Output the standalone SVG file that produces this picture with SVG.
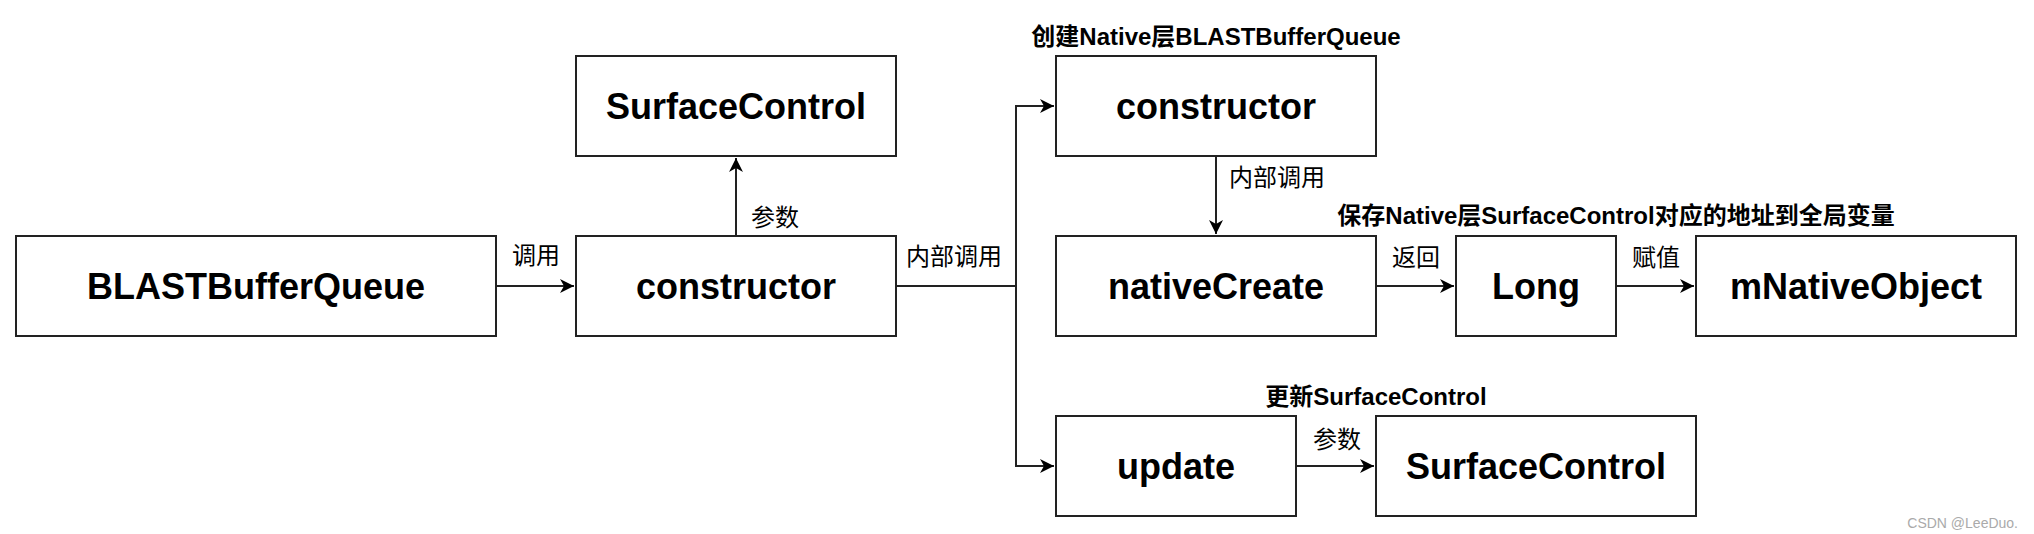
<svg xmlns="http://www.w3.org/2000/svg" width="2034" height="534" viewBox="0 0 2034 534">
<style>
.box{fill:#fff;stroke:#222;stroke-width:2}
.nt{font-family:"Liberation Sans","Noto Sans CJK SC",sans-serif;font-weight:bold;font-size:36px;fill:#000;text-anchor:middle}
.el{font-family:"Liberation Sans","Noto Sans CJK SC",sans-serif;font-size:24px;fill:#000}
.tl{font-family:"Liberation Sans","Noto Sans CJK SC",sans-serif;font-size:24px;font-weight:bold;fill:#000;text-anchor:middle}
.edge{fill:none;stroke:#222;stroke-width:2}
</style>
<defs>
<marker id="arr" markerUnits="userSpaceOnUse" markerWidth="16" markerHeight="16" viewBox="0 0 16 16" refX="15" refY="8" orient="auto">
<path d="M1,1 L15,8 L1,15 L5,8 Z" fill="#000"/>
</marker>
</defs>
<rect width="2034" height="534" fill="#fff"/>
<g id="connectors">
<path class="edge" d="M496,286 H574" marker-end="url(#arr)"/>
<path class="edge" d="M736,236 V158" marker-end="url(#arr)"/>
<path class="edge" d="M896,286 H1016 V106 H1054" marker-end="url(#arr)"/>
<path class="edge" d="M1016,286 V466 H1054" marker-end="url(#arr)"/>
<path class="edge" d="M1216,156 V234" marker-end="url(#arr)"/>
<path class="edge" d="M1376,286 H1454" marker-end="url(#arr)"/>
<path class="edge" d="M1616,286 H1694" marker-end="url(#arr)"/>
<path class="edge" d="M1296,466 H1374" marker-end="url(#arr)"/>
<text class="el" x="536" y="264" text-anchor="middle">调用</text>
<text class="el" x="751" y="226">参数</text>
<text class="el" x="954" y="265" text-anchor="middle">内部调用</text>
<text class="el" x="1229" y="186">内部调用</text>
<text class="el" x="1416" y="266" text-anchor="middle">返回</text>
<text class="el" x="1656" y="266" text-anchor="middle">赋值</text>
<text class="el" x="1337" y="448" text-anchor="middle">参数</text>
</g>
<g id="n-blast"><rect class="box" x="16" y="236" width="480" height="100"/><text class="nt" x="256" y="299">BLASTBufferQueue</text></g>
<g id="n-ctor1"><rect class="box" x="576" y="236" width="320" height="100"/><text class="nt" x="736" y="299">constructor</text></g>
<g id="n-sc1"><rect class="box" x="576" y="56" width="320" height="100"/><text class="nt" x="736" y="119">SurfaceControl</text></g>
<g id="n-ctor2"><rect class="box" x="1056" y="56" width="320" height="100"/><text class="nt" x="1216" y="119">constructor</text><text class="tl" x="1216" y="45">创建Native层BLASTBufferQueue</text></g>
<g id="n-native"><rect class="box" x="1056" y="236" width="320" height="100"/><text class="nt" x="1216" y="299">nativeCreate</text></g>
<g id="n-long"><rect class="box" x="1456" y="236" width="160" height="100"/><text class="nt" x="1536" y="299">Long</text><text class="tl" x="1616" y="224">保存Native层SurfaceControl对应的地址到全局变量</text></g>
<g id="n-mno"><rect class="box" x="1696" y="236" width="320" height="100"/><text class="nt" x="1856" y="299">mNativeObject</text></g>
<g id="n-update"><rect class="box" x="1056" y="416" width="240" height="100"/><text class="nt" x="1176" y="479">update</text><text class="tl" x="1376" y="405">更新SurfaceControl</text></g>
<g id="n-sc2"><rect class="box" x="1376" y="416" width="320" height="100"/><text class="nt" x="1536" y="479">SurfaceControl</text></g>
<text x="2018" y="528" text-anchor="end" font-family="Liberation Sans, sans-serif" font-size="14" fill="#aaa">CSDN @LeeDuo.</text>
</svg>
